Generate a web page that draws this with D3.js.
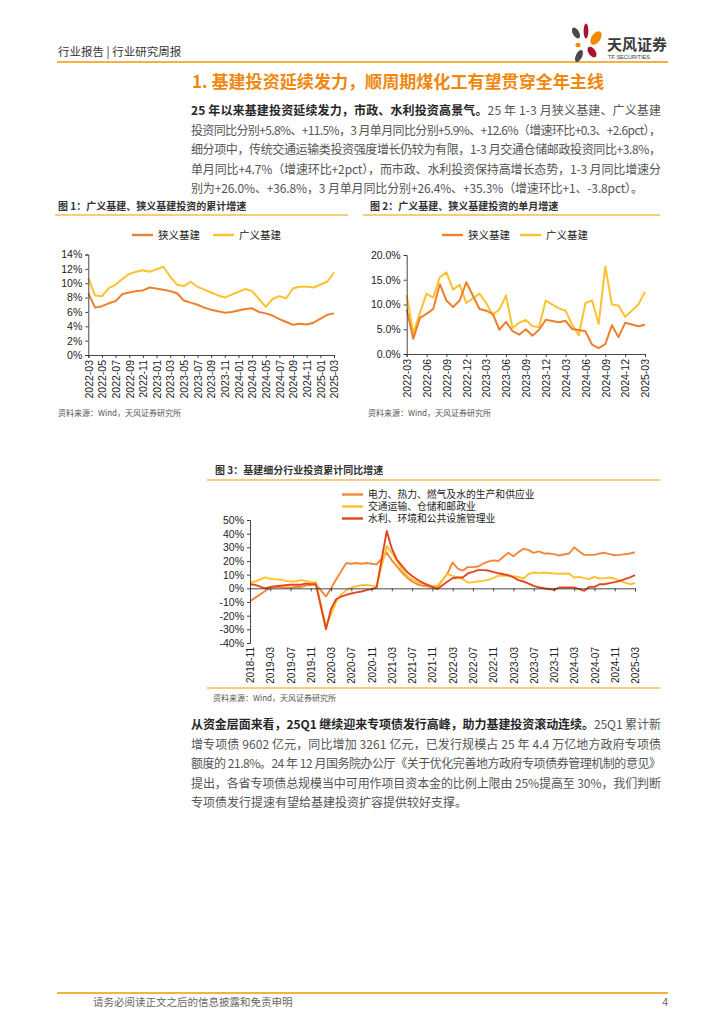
<!DOCTYPE html>
<html><head><meta charset="utf-8">
<script src="https://cdn.jsdelivr.net/npm/d3@7"></script>
<style>
body{margin:0;background:#fff;}
svg{display:block;}
</style></head><body>
<svg id="page" width="724" height="1024"></svg>
<script>
// ---------------- DATA ----------------
const months1 = ["2022-03","2022-04","2022-05","2022-06","2022-07","2022-08","2022-09","2022-10","2022-11","2022-12",
"2023-01","2023-02","2023-03","2023-04","2023-05","2023-06","2023-07","2023-08","2023-09","2023-10","2023-11","2023-12",
"2024-01","2024-02","2024-03","2024-04","2024-05","2024-06","2024-07","2024-08","2024-09","2024-10","2024-11","2024-12",
"2025-01","2025-02","2025-03"];
const ticks1 = ["2022-03","2022-05","2022-07","2022-09","2022-11","2023-01","2023-03","2023-05","2023-07","2023-09","2023-11",
"2024-01","2024-03","2024-05","2024-07","2024-09","2024-11","2025-01","2025-03"];
const ticks2 = ["2022-03","2022-06","2022-09","2022-12","2023-03","2023-06","2023-09","2023-12","2024-03","2024-06","2024-09","2024-12","2025-03"];
const seriesNames12 = ["狭义基建","广义基建"];
// chart 1: cumulative growth (%), January not published
const narrowCum = [8.6,6.6,6.8,7.2,7.5,8.5,8.7,8.9,9.0,9.4,null,9.1,8.9,8.6,7.6,7.3,7.0,6.6,6.3,6.1,5.9,6.0,null,6.4,6.5,6.0,5.8,5.5,5.0,4.6,4.2,4.35,4.25,4.5,null,5.6,5.8];
const broadCum  = [10.7,8.3,8.2,9.3,9.8,10.6,11.3,11.6,11.8,11.6,null,12.3,10.9,9.8,9.6,10.2,9.5,9.1,8.7,8.3,8.0,8.4,null,9.2,8.9,7.8,6.7,7.8,8.2,7.9,9.3,9.5,9.5,9.4,null,10.2,11.5];
const yTicks1 = [0,2,4,6,8,10,12,14];
// chart 2: single-month growth (%)
const narrowMon = [9.0,3.1,7.3,8.1,9.1,14.1,10.8,9.5,10.8,14.5,null,9.1,8.75,8.1,4.9,6.5,4.6,3.9,5.0,3.7,4.9,6.9,null,6.4,6.7,5.05,4.85,4.6,1.9,1.2,2.0,5.8,3.4,6.3,null,5.6,5.9];
const broadMon  = [11.9,4.2,8.3,12.2,11.4,15.5,16.5,13.0,14.0,10.3,null,12.2,10.3,7.95,9.0,11.8,5.25,6.3,6.9,5.6,5.45,10.8,null,9.2,8.75,5.9,3.8,10.3,10.8,6.1,17.7,10.0,9.8,7.5,null,10.0,12.6];
const yTicks2 = [0,5,10,15,20];
// chart 3
const months3 = ["2018-11","2018-12",
"2019-01","2019-02","2019-03","2019-04","2019-05","2019-06","2019-07","2019-08","2019-09","2019-10","2019-11","2019-12",
"2020-01","2020-02","2020-03","2020-04","2020-05","2020-06","2020-07","2020-08","2020-09","2020-10","2020-11","2020-12",
"2021-01","2021-02","2021-03","2021-04","2021-05","2021-06","2021-07","2021-08","2021-09","2021-10","2021-11","2021-12",
"2022-01","2022-02","2022-03","2022-04","2022-05","2022-06","2022-07","2022-08","2022-09","2022-10","2022-11","2022-12",
"2023-01","2023-02","2023-03","2023-04","2023-05","2023-06","2023-07","2023-08","2023-09","2023-10","2023-11","2023-12",
"2024-01","2024-02","2024-03","2024-04","2024-05","2024-06","2024-07","2024-08","2024-09","2024-10","2024-11","2024-12",
"2025-01","2025-02","2025-03"];
const ticks3 = ["2018-11","2019-03","2019-07","2019-11","2020-03","2020-07","2020-11","2021-03","2021-07","2021-11",
"2022-03","2022-07","2022-11","2023-03","2023-07","2023-11","2024-03","2024-07","2024-11","2025-03"];
const seriesNames3 = ["电力、热力、燃气及水的生产和供应业","交通运输、仓储和邮政业","水利、环境和公共设施管理业"];
const power = [-9.5,-7.0,null,-2.0,0.5,1.0,1.0,0.5,0.5,1.0,1.0,2.0,2.5,3.0,null,-6.0,0.0,6.5,12.5,18.5,18.0,18.5,18.0,18.5,18.0,17.5,null,26.0,20.5,16.0,11.5,8.0,5.0,3.0,2.0,1.5,0.8,1.0,null,11.0,19.0,14.5,13.0,15.5,15.5,16.0,18.0,19.5,20.5,20.0,null,26.0,23.5,26.5,29.0,28.0,26.0,27.0,25.5,25.5,25.0,24.0,null,25.5,30.0,27.0,24.5,24.5,24.5,25.5,26.0,25.0,24.2,24.5,null,25.5,26.4];
const transport = [4.5,5.0,null,8.0,7.0,6.7,6.5,5.5,5.0,5.0,6.0,5.5,4.5,4.5,null,-28.0,-19.0,-10.0,-4.5,-1.5,0.5,1.5,2.3,2.5,2.0,1.8,null,31.0,26.0,20.0,14.0,9.0,6.5,4.5,3.5,2.5,1.8,2.0,null,10.4,9.1,8.0,6.7,4.3,4.5,5.0,5.5,6.2,7.5,9.1,null,9.1,8.8,8.4,7.2,10.5,11.6,11.1,11.6,11.2,10.9,10.7,null,10.9,7.9,8.4,7.5,6.7,8.4,7.2,7.5,7.9,7.0,5.5,null,3.0,3.8];
const water = [3.0,2.6,null,0.0,1.1,1.5,2.0,2.3,2.6,2.6,2.6,3.5,3.0,3.0,null,-30.0,-15.0,-8.0,-6.0,-4.8,-3.8,-3.0,-2.3,-1.3,-0.6,0.6,null,42.0,29.0,21.0,16.5,12.0,9.0,6.5,4.3,2.5,1.0,-0.5,null,5.0,7.4,7.9,7.9,10.9,12.0,13.3,13.3,13.0,12.0,11.0,null,9.6,8.0,6.0,5.0,3.5,1.8,0.8,0.1,-0.5,-1.1,0.6,null,0.6,0.6,-0.6,-1.8,1.1,1.1,3.0,3.0,3.8,4.5,5.5,null,8.0,9.6];
const yTicks3 = [-40,-30,-20,-10,0,10,20,30,40,50];

// ---------------- STYLE ----------------
const CJK = '"Noto Sans CJK SC","Noto Sans",sans-serif';
const LAT = '"Liberation Sans",Arial,sans-serif';
const ORANGE_RULE = "#F39800";
const C_NARROW = "#EE7F2D", C_BROAD = "#FFC12E";
const C3 = ["#F2873A","#FFC22B","#E4461F"];

const svg = d3.select("#page");

// ---------------- HEADER ----------------
svg.append("text").attr("x",58).attr("y",56).attr("font-family",CJK).attr("font-size",11.5)
  .attr("fill","#333").text("行业报告 | 行业研究周报");
svg.append("line").attr("x1",57).attr("x2",668).attr("y1",62).attr("y2",62)
  .attr("stroke",ORANGE_RULE).attr("stroke-width",1.6);
// logo petals
const logo = svg.append("g");
[[576,33,3.2,6,-30,"#4a4a4a"],[586,31,2.4,7.5,0,"#A8142E"],[596,38,4.5,7.5,35,"#F08A00"],
 [578,45,2.6,2.2,0,"#F08A00"],[592,52,3.5,6,-35,"#A8142E"],[579,56,3.2,6.5,25,"#4a4a4a"]]
 .forEach(p=>logo.append("ellipse").attr("cx",p[0]).attr("cy",p[1]).attr("rx",p[2]).attr("ry",p[3])
   .attr("transform",`rotate(${p[4]},${p[0]},${p[1]})`).attr("fill",p[5]));
svg.append("text").attr("x",607).attr("y",50).attr("font-family",CJK).attr("font-size",15)
  .attr("font-weight","bold").attr("fill","#3a3a3a").text("天风证券");
svg.append("text").attr("x",608).attr("y",58.5).attr("font-family",LAT).attr("font-size",5.6)
  .attr("fill","#3a3a3a").text("TF SECURITIES");

// ---------------- SECTION TITLE ----------------
svg.append("text").attr("x",192).attr("y",88).attr("font-family",CJK).attr("font-size",17)
  .attr("font-weight","bold").attr("fill","#F0870F").attr("textLength",412).attr("lengthAdjust","spacingAndGlyphs")
  .text("1. 基建投资延续发力，顺周期煤化工有望贯穿全年主线");

// ---------------- PARAGRAPHS ----------------
function para(lines, x, y0, lh, width, lastW){
  lines.forEach((segs,i)=>{
    const t = svg.append("text").attr("x",x).attr("y",y0+i*lh).attr("font-family",CJK).attr("font-size",12);
    const w = i<lines.length-1 ? width : lastW;
    if(w) t.attr("textLength",w).attr("lengthAdjust","spacing");
    segs.forEach(s=>t.append("tspan").attr("font-weight",s[1]?"bold":"normal").attr("fill",s[1]?"#262626":"#555").text(s[0]));
  });
}
para([
 [["25 年以来基建投资延续发力，市政、水利投资高景气。",1],["25 年 1-3 月狭义基建、广义基建",0]],
 [["投资同比分别+5.8%、+11.5%，3 月单月同比分别+5.9%、+12.6%（增速环比+0.3、+2.6pct），",0]],
 [["细分项中，传统交通运输类投资强度增长仍较为有限，1-3 月交通仓储邮政投资同比+3.8%，",0]],
 [["单月同比+4.7%（增速环比+2pct），而市政、水利投资保持高增长态势，1-3 月同比增速分",0]],
 [["别为+26.0%、+36.8%，3 月单月同比分别+26.4%、+35.3%（增速环比+1、-3.8pct）。",0]]
], 191, 115, 19.6, 470, 452);
para([
 [["从资金层面来看，25Q1 继续迎来专项债发行高峰，助力基建投资滚动连续。",1],["25Q1 累计新",0]],
 [["增专项债 9602 亿元，同比增加 3261 亿元，已发行规模占 25 年 4.4 万亿地方政府专项债",0]],
 [["额度的 21.8%。24 年 12 月国务院办公厅《关于优化完善地方政府专项债券管理机制的意见》",0]],
 [["提出，各省专项债总规模当中可用作项目资本金的比例上限由 25%提高至 30%，我们判断",0]],
 [["专项债发行提速有望给基建投资扩容提供较好支撑。",0]]
], 191, 729, 19.6, 470, null);

// ---------------- CHART HELPERS ----------------
function chartTitle(x, y, text, lx1, lx2, ly){
  svg.append("text").attr("x",x).attr("y",y).attr("font-family",CJK).attr("font-size",10)
    .attr("font-weight","bold").attr("fill","#333").text(text);
  svg.append("line").attr("x1",lx1).attr("x2",lx2).attr("y1",ly).attr("y2",ly)
    .attr("stroke",ORANGE_RULE).attr("stroke-width",1.2);
}
function source(x,y){
  svg.append("text").attr("x",x).attr("y",y).attr("font-family",CJK).attr("font-size",8)
    .attr("fill","#555").text("资料来源：Wind，天风证券研究所");
}
function legendItem(x,y,color,label,fs){
  svg.append("line").attr("x1",x).attr("x2",x+21).attr("y1",y).attr("y2",y).attr("stroke",color).attr("stroke-width",2.4);
  svg.append("text").attr("x",x+26).attr("y",y).attr("dy","0.36em").attr("font-family",CJK).attr("font-size",fs||10.5)
    .attr("fill","#222").text(label);
}
function drawSeries(g, cats, vals, x, y, color, w){
  const pts = cats.map((c,i)=>[c,vals[i]]).filter(d=>d[1]!==null);
  g.append("path").datum(pts).attr("fill","none").attr("stroke",color).attr("stroke-width",w)
    .attr("stroke-linejoin","round")
    .attr("d", d3.line().x(d=>x(d[0])).y(d=>y(d[1])));
}
function styleAxis(g){
  g.select(".domain").attr("stroke","#333").attr("stroke-width",0.9);
  g.selectAll(".tick line").attr("stroke","#333").attr("stroke-width",0.9);
  g.selectAll("text").attr("font-family",LAT).attr("fill","#222");
}
function lineChart(cfg){
  const x = d3.scalePoint().domain(cfg.cats).range([cfg.x0,cfg.x1]);
  const y = d3.scaleLinear().domain(cfg.ydom).range([cfg.yb,cfg.yt]);
  const g = svg.append("g");
  cfg.series.forEach(s=>drawSeries(g,cfg.cats,s.vals,x,y,s.color,cfg.sw));
  const ya = g.append("g").attr("transform",`translate(${cfg.x0},0)`)
    .call(d3.axisLeft(y).tickValues(cfg.yticks).tickFormat(cfg.yfmt).tickSize(3).tickPadding(3));
  styleAxis(ya); ya.selectAll("text").attr("font-size",10.5);
  const xa = g.append("g").attr("transform",`translate(0,${y(cfg.xAxisAt)})`)
    .call(d3.axisBottom(x).tickValues(cfg.xticks).tickSize(3).tickFormat(cfg.labelsOnAxis?(d=>d):(()=>"")));
  styleAxis(xa);
  let lg = xa;
  if(!cfg.labelsOnAxis){
    lg = g.append("g").attr("transform",`translate(0,${cfg.yb})`)
      .call(d3.axisBottom(x).tickValues(cfg.xticks).tickSize(0));
    lg.select(".domain").remove();
    lg.selectAll("text").attr("font-family",LAT).attr("fill","#222");
  }
  lg.selectAll("text").attr("font-size",cfg.xfs).attr("transform","rotate(-90)").attr("x",-cfg.lgap).attr("y",0)
    .attr("dy","0.36em").style("text-anchor","end");
  return g;
}

// ---------------- CHART 1 ----------------
chartTitle(58, 209.5, "图 1：广义基建、狭义基建投资的累计增速", 55, 348, 215);
legendItem(132, 235, C_NARROW, seriesNames12[0]);
legendItem(213, 235, C_BROAD, seriesNames12[1]);
lineChart({cats:months1, x0:88.3, x1:334, yb:355, yt:254.5, ydom:[0,14], yticks:yTicks1, yfmt:d=>d+"%",
  xticks:ticks1, xAxisAt:0, labelsOnAxis:true, lgap:5, xfs:10.5, sw:2,
  series:[{vals:broadCum,color:C_BROAD},{vals:narrowCum,color:C_NARROW}]});
source(58, 416);

// ---------------- CHART 2 ----------------
chartTitle(370, 209.5, "图 2：广义基建、狭义基建投资的单月增速", 363, 660, 215);
legendItem(442, 235, C_NARROW, seriesNames12[0]);
legendItem(520, 235, C_BROAD, seriesNames12[1]);
lineChart({cats:months1, x0:406.7, x1:645, yb:354, yt:255, ydom:[0,20], yticks:yTicks2, yfmt:d=>d3.format(".1f")(d)+"%",
  xticks:ticks2, xAxisAt:0, labelsOnAxis:true, lgap:5, xfs:10.5, sw:2,
  series:[{vals:broadMon,color:C_BROAD},{vals:narrowMon,color:C_NARROW}]});
source(368, 416);

// ---------------- CHART 3 ----------------
chartTitle(215, 473.5, "图 3：基建细分行业投资累计同比增速", 207, 660, 480);
legendItem(342, 494.5, C3[0], seriesNames3[0], 9.8);
legendItem(342, 506.5, C3[1], seriesNames3[1], 9.8);
legendItem(342, 518.5, C3[2], seriesNames3[2], 9.8);
lineChart({cats:months3, x0:250, x1:635, yb:643, yt:520, ydom:[-40,50], yticks:yTicks3, yfmt:d=>d+"%",
  xticks:ticks3, xAxisAt:0, labelsOnAxis:false, lgap:4, xfs:10, sw:1.9,
  series:[{vals:power,color:C3[0]},{vals:transport,color:C3[1]},{vals:water,color:C3[2]}]});
svg.append("line").attr("x1",207).attr("x2",660).attr("y1",688).attr("y2",688).attr("stroke",ORANGE_RULE).attr("stroke-width",1.2);
source(213, 701);

// ---------------- FOOTER ----------------
svg.append("line").attr("x1",57).attr("x2",668).attr("y1",993).attr("y2",993).attr("stroke",ORANGE_RULE).attr("stroke-width",1.6);
svg.append("text").attr("x",93).attr("y",1006).attr("font-family",CJK).attr("font-size",10.5).attr("fill","#666")
  .text("请务必阅读正文之后的信息披露和免责申明");
svg.append("text").attr("x",668).attr("y",1006).attr("text-anchor","end").attr("font-family",LAT).attr("font-size",10.5)
  .attr("fill","#666").text("4");
</script>
</body></html>
